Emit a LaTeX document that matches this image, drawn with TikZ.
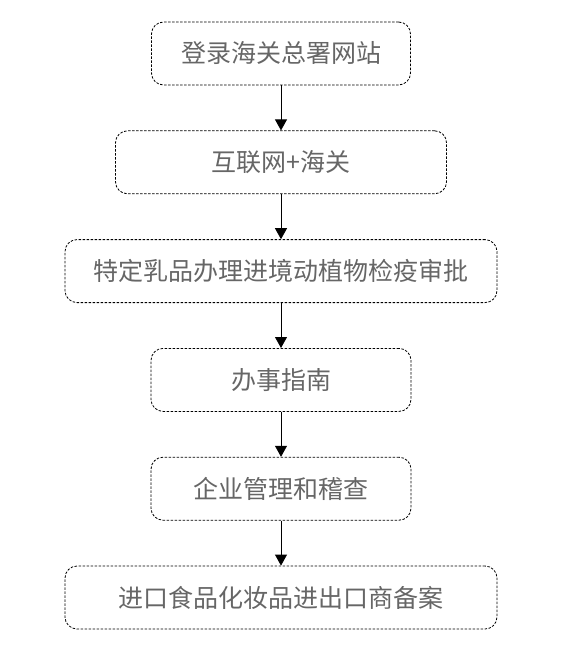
\documentclass[tikz,border=0pt]{standalone}
\usepackage{fontspec}
\newfontfamily\cjk{Noto Sans CJK SC}
\usetikzlibrary{arrows.meta}
\usetikzlibrary{positioning}
\definecolor{textgray}{HTML}{666666}
\tikzset{
  stepbox/.style={draw=black, line width=0.8pt, dash pattern=on 2.5pt off 1.5pt,
    rounded corners=12pt, minimum height=63pt, text=textgray,
    font=\cjk\fontsize{25}{30}\selectfont, inner sep=0pt},
  flow/.style={-{Triangle[width=12pt,length=11pt]}, line width=0.8pt}
}

\begin{document}
\begin{tikzpicture}[node distance=45pt]
  \useasboundingbox (0,0) rectangle (562pt,-650pt);
  % Place the steps
  \node[stepbox, minimum width=259pt] (login) at (281pt,-53.5pt) {登录海关总署网站};
  \node[stepbox, minimum width=331pt, below=of login] (portal) {互联网+海关};
  \node[stepbox, minimum width=432pt, below=of portal] (dairy) {特定乳品办理进境动植物检疫审批};
  \node[stepbox, minimum width=260pt, below=of dairy] (guide) {办事指南};
  \node[stepbox, minimum width=260pt, below=of guide] (audit) {企业管理和稽查};
  \node[stepbox, minimum width=432pt, below=of audit] (record) {进口食品化妆品进出口商备案};
  % Connect the steps
  \draw[flow] (login) -- (portal);
  \draw[flow] (portal) -- (dairy);
  \draw[flow] (dairy) -- (guide);
  \draw[flow] (guide) -- (audit);
  \draw[flow] (audit) -- (record);
\end{tikzpicture}
\end{document}
